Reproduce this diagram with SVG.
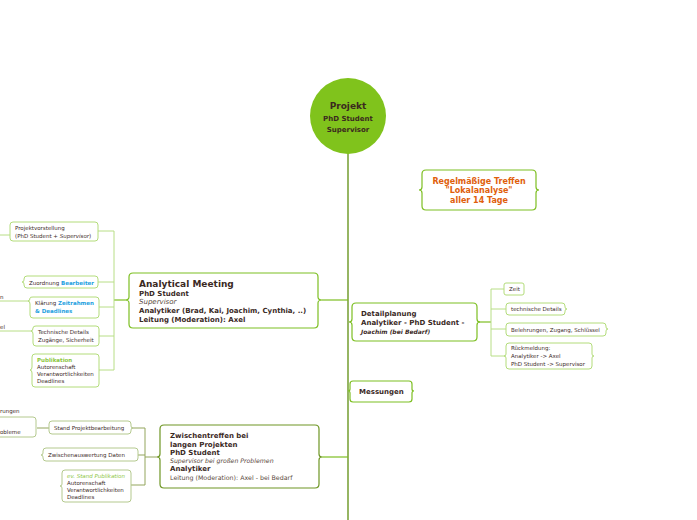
<svg xmlns="http://www.w3.org/2000/svg" width="697" height="520" viewBox="0 0 697 520">
<style>
text{font-family:"DejaVu Sans",Verdana,sans-serif;fill:#3b2a1f}
.b{font-weight:bold}
.i{font-style:italic}
.leaf{font-size:5.5px}
.main{font-size:7px}
.blue{fill:#1e9fe0;font-weight:bold}
.grn{fill:#8cc63f;font-weight:bold}
.nm{fill:#fff;stroke:#7dbf22;stroke-width:1.2}
.nl{fill:#fff;stroke:#b3dc7a;stroke-width:1}
.ng{fill:#fff;stroke:#b4c98e;stroke-width:1}
.no{fill:#fff;stroke:#6e9624;stroke-width:1.2}
.ct{fill:none;stroke:#5e8e10;stroke-width:1.3}
.cm{fill:none;stroke:#7dbf22;stroke-width:1.2}
.cl{fill:none;stroke:#b8de86;stroke-width:1}
.cg{fill:none;stroke:#93a55c;stroke-width:1}
.soft{fill:#5a4a40}
</style>
<rect width="697" height="520" fill="#fff"/>
<g id="connectors">
<line class="ct" x1="348" y1="150" x2="348" y2="520"/>
<polyline class="cm" points="322,300 348,300"/>
<polyline class="cm" points="125,300 114,300"/>
<polyline class="cl" points="98,231 114,231 114,370 99,370"/>
<line class="cl" x1="98" y1="282" x2="114" y2="282"/>
<line class="cl" x1="99" y1="307" x2="114" y2="307"/>
<line class="cl" x1="99" y1="336" x2="114" y2="336"/>
<line class="cl" x1="0" y1="235" x2="10" y2="235"/>
<line class="cl" x1="0" y1="301" x2="30" y2="301"/>
<line class="cl" x1="0" y1="331" x2="33" y2="331"/>
<polyline class="cm" points="479,322 491,322"/>
<polyline class="cl" points="504,289 491,289 491,356 506,356"/>
<line class="cl" x1="491" y1="309" x2="506" y2="309"/>
<line class="cl" x1="491" y1="329" x2="506" y2="329"/>
<polyline class="cm" points="322,457 348,457"/>
<polyline class="cg" points="157,457 145,457"/>
<polyline class="cg" points="131,428 145,428 145,485 131,485"/>
<line class="cg" x1="138" y1="455" x2="145" y2="455"/>
<line class="cg" x1="37" y1="428" x2="49" y2="428"/>
</g>
<g id="root">
<circle cx="348" cy="116" r="38" fill="#80c31c"/>
<text x="348" y="109" text-anchor="middle" class="b" style="font-size:9px">Projekt</text>
<text x="348" y="121" text-anchor="middle" class="b" style="font-size:7px">PhD Student</text>
<text x="348" y="132" text-anchor="middle" class="b" style="font-size:7px">Supervisor</text>
</g>
<g id="regelmaessig">
<path class="nm" d="M426,170 H532 Q536,170 536,174 V187 Q536,190 539,190 Q536,190 536,193 V206 Q536,210 532,210 H426 Q422,210 422,206 V193 Q422,190 419,190 Q422,190 422,187 V174 Q422,170 426,170 Z"/>
<text x="479" y="184" text-anchor="middle" class="b" style="font-size:8px;fill:#e0600c">Regelmäßige Treffen</text>
<text x="479" y="193" text-anchor="middle" class="b" style="font-size:8px;fill:#e0600c">"Lokalanalyse"</text>
<text x="479" y="203" text-anchor="middle" class="b" style="font-size:8px;fill:#e0600c">aller 14 Tage</text>
</g>
<g id="analytical-meeting">
<path class="nm" d="M133,273 H314 Q318,273 318,277 V297 Q318,300 322,300 Q318,300 318,303 V324 Q318,328 314,328 H133 Q129,328 129,324 V303 Q129,300 125,300 Q129,300 129,297 V277 Q129,273 133,273 Z"/>
<text x="139" y="287" class="b" style="font-size:9px">Analytical Meeting</text>
<text x="139" y="296" class="b main">PhD Student</text>
<text x="139" y="304" class="i main soft">Supervisor</text>
<text x="139" y="313" class="b main">Analytiker (Brad, Kai, Joachim, Cynthia, ..)</text>
<text x="139" y="322" class="b main">Leitung (Moderation): Axel</text>
</g>
<g id="projektvorstellung">
<rect class="nl" x="10" y="222" width="88" height="19" rx="3"/>
<text x="15" y="230" class="leaf">Projektvorstellung</text>
<text x="15" y="238" class="leaf">(PhD Student + <tspan class="i">Supervisor</tspan>)</text>
</g>
<g id="zuordnung">
<path class="nl" d="M27,276 H95 Q98,276 98,279 V285 Q98,288 95,288 H27 Q24,288 24,285 V284 Q24,282 22,282 Q24,282 24,280 V279 Q24,276 27,276 Z"/>
<text x="29" y="284.5" class="leaf">Zuordnung <tspan class="blue">Bearbeiter</tspan></text>
</g>
<g id="klaerung">
<path class="nl" d="M33,297 H96 Q99,297 99,300 V315 Q99,318 96,318 H33 Q30,318 30,315 V304 Q30,301 28,301 Q30,301 30,298 Q30,297 33,297 Z"/>
<text x="35" y="305" class="leaf">Klärung <tspan class="blue">Zeitrahmen</tspan></text>
<text x="35" y="313" class="leaf blue">&amp; Deadlines</text>
</g>
<g id="technische-details">
<path class="nl" d="M36,326 H96 Q99,326 99,329 V343 Q99,346 96,346 H36 Q33,346 33,343 V334 Q33,331 31,331 Q33,331 33,328 Q33,326 36,326 Z"/>
<text x="38" y="334" class="leaf">Technische Details</text>
<text x="38" y="342" class="leaf">Zugänge, Sicherheit</text>
</g>
<g id="publikation">
<path class="nl" d="M35,354 H96 Q99,354 99,357 V384 Q99,387 96,387 H35 Q32,387 32,384 V373 Q32,370 30,370 Q32,370 32,367 V357 Q32,354 35,354 Z"/>
<text x="37" y="362" class="leaf grn">Publikation</text>
<text x="37" y="369" class="leaf">Autorenschaft</text>
<text x="37" y="376" class="leaf">Verantwortlichkeiten</text>
<text x="37" y="383" class="leaf">Deadlines</text>
</g>
<g id="offscreen-left">
<text x="0" y="299" class="leaf">n</text>
<text x="0" y="329" class="leaf">el</text>
<text x="0" y="413" class="leaf">rungen</text>
<rect class="ng" x="-20" y="417" width="56" height="20" rx="3"/>
<text x="0" y="434" class="leaf">obleme</text>
</g>
<g id="detailplanung">
<path class="nm" d="M356,303 H473 Q477,303 477,307 V319 Q477,322 480,322 Q477,322 477,325 V337 Q477,341 473,341 H356 Q352,341 352,337 V325 Q352,322 349,322 Q352,322 352,319 V307 Q352,303 356,303 Z"/>
<text x="361" y="316" class="b main">Detailplanung</text>
<text x="361" y="325" class="b main">Analytiker - PhD Student -</text>
<text x="361" y="334" class="b i" style="font-size:6px">Joachim (bei Bedarf)</text>
</g>
<g id="zeit">
<rect class="nl" x="504" y="283" width="20" height="12" rx="2"/>
<text x="509" y="291" class="leaf">Zeit</text>
</g>
<g id="technische-details-2">
<path class="nl" d="M509,303 H562 Q565,303 565,306 V307 Q565,309 567,309 Q565,309 565,311 V312 Q565,315 562,315 H509 Q506,315 506,312 V306 Q506,303 509,303 Z"/>
<text x="511" y="311" class="leaf">technische Details</text>
</g>
<g id="belehrungen">
<path class="nl" d="M509,323 H603 Q606,323 606,326 V327 Q606,329 608,329 Q606,329 606,331 V333 Q606,336 603,336 H509 Q506,336 506,333 V326 Q506,323 509,323 Z"/>
<text x="511" y="331.5" class="leaf">Belehrungen, Zugang, Schlüssel</text>
</g>
<g id="rueckmeldung">
<path class="nl" d="M509,343 H589 Q592,343 592,346 V354 Q592,356 594,356 Q592,356 592,358 V366 Q592,369 589,369 H509 Q506,369 506,366 V358 Q506,356 504,356 Q506,356 506,354 V346 Q506,343 509,343 Z"/>
<text x="511" y="350" class="leaf">Rückmeldung:</text>
<text x="511" y="358" class="leaf">Analytiker -&gt; Axel</text>
<text x="511" y="366" class="leaf">PhD Student -&gt; Supervisor</text>
</g>
<g id="messungen">
<path class="nm" d="M353,381 H409 Q412,381 412,384 V389 Q412,391 414,391 Q412,391 412,393 V399 Q412,402 409,402 H353 Q350,402 350,399 V393 Q350,391 348,391 Q350,391 350,389 V384 Q350,381 353,381 Z"/>
<text x="359" y="394" class="b main">Messungen</text>
</g>
<g id="zwischentreffen">
<path class="no" d="M164,425 H315 Q319,425 319,429 V454 Q319,457 322,457 Q319,457 319,460 V484 Q319,488 315,488 H164 Q160,488 160,484 V460 Q160,457 157,457 Q160,457 160,454 V429 Q160,425 164,425 Z"/>
<text x="170" y="438" class="b main">Zwischentreffen bei</text>
<text x="170" y="447" class="b main">langen Projekten</text>
<text x="170" y="455" class="b main">PhD Student</text>
<text x="170" y="463" class="i soft" style="font-size:6.2px">Supervisor bei großen Problemen</text>
<text x="170" y="471" class="b main">Analytiker</text>
<text x="170" y="480" class="soft" style="font-size:6.3px">Leitung (Moderation): Axel - bei Bedarf</text>
</g>
<g id="stand-projektbearbeitung">
<path class="ng" d="M52,421 H128 Q131,421 131,424 V426 Q131,428 133,428 Q131,428 131,430 V431 Q131,434 128,434 H52 Q49,434 49,431 V424 Q49,421 52,421 Z"/>
<text x="54" y="430" class="leaf">Stand Projektbearbeitung</text>
</g>
<g id="zwischenauswertung">
<path class="ng" d="M46,448 H135 Q138,448 138,451 V458 Q138,461 135,461 H46 Q43,461 43,458 V457 Q43,455 41,455 Q43,455 43,453 V451 Q43,448 46,448 Z"/>
<text x="48" y="457" class="leaf">Zwischenauswertung Daten</text>
</g>
<g id="ev-stand-publikation">
<path class="ng" d="M65,470 H128 Q131,470 131,473 V499 Q131,502 128,502 H65 Q62,502 62,499 V488 Q62,486 60,486 Q62,486 62,484 V473 Q62,470 65,470 Z"/>
<text x="67" y="478" class="leaf i" style="fill:#8cc63f">ev. Stand Publikation</text>
<text x="67" y="485" class="leaf">Autorenschaft</text>
<text x="67" y="492" class="leaf">Verantwortlichkeiten</text>
<text x="67" y="499" class="leaf">Deadlines</text>
</g>
</svg>
